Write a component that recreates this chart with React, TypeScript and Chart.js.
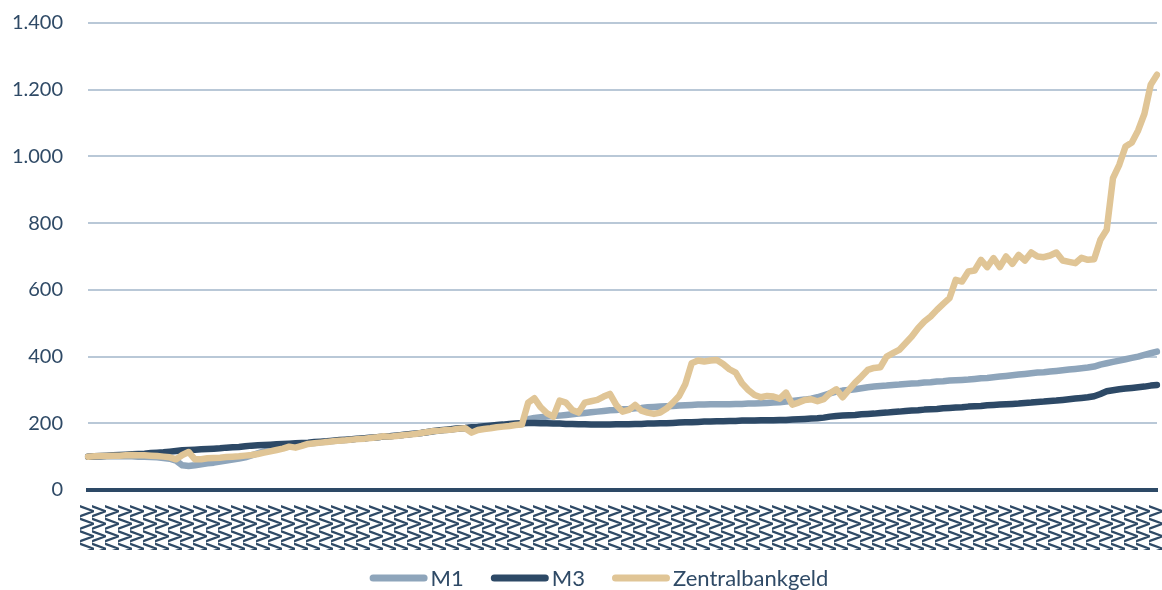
import React, { useEffect, useRef } from "react";
import { Chart, registerables } from "chart.js";

Chart.register(...registerables);

const SERIES_NAMES = ["M1", "M3", "Zentralbankgeld"];
const TICK_TEXT = "VVVV";
const Y_TICKS = [0, 200, 400, 600, 800, 1000, 1200, 1400];

const M1 = [
  100, 100, 100, 101, 101, 101, 101, 101, 100, 100,
  99, 98, 96, 94, 88, 74, 72, 74, 77, 80,
  82, 85, 88, 91, 94, 98, 104, 110, 116, 120,
  124, 127, 130, 133, 136, 139, 141, 143, 145, 147,
  149, 150, 152, 154, 155, 157, 158, 160, 161, 163,
  165, 167, 169, 171, 173, 176, 178, 180, 182, 184,
  185, 187, 189, 190, 192, 194, 195, 196, 197, 198,
  212, 216, 218, 220, 222, 223, 225, 227, 229, 231,
  233, 235, 237, 239, 240, 242, 243, 245, 246, 248,
  249, 250, 251, 252, 253, 254, 255, 256, 256, 257,
  257, 257, 257, 258, 258, 259, 259, 260, 261, 262,
  263, 265, 267, 269, 271, 274, 278, 284, 290, 295,
  298, 300, 302, 305, 308, 310, 312, 313, 315, 316,
  318, 319, 320, 322, 323, 325, 326, 328, 329, 330,
  331, 333, 335, 336, 338, 340, 342, 344, 346, 348,
  350, 352, 353, 355, 357, 359, 361, 363, 365, 367,
  370, 376, 380, 384, 388, 392, 396, 400, 405, 410,
  415,
];

const M3 = [
  100, 101, 102, 103, 104, 105, 106, 107, 108, 109,
  111, 112, 113, 115, 117, 119, 120, 121, 122, 123,
  124, 125, 127, 128, 129, 131, 133, 134, 135, 136,
  137, 138, 139, 140, 141, 142, 144, 145, 146, 148,
  150, 151, 152, 154, 155, 157, 158, 160, 161, 163,
  165, 167, 169, 171, 174, 177, 179, 181, 183, 185,
  186, 188, 189, 191, 193, 195, 196, 198, 199, 200,
  201, 201, 200, 200, 199, 199, 198, 198, 197, 197,
  196, 196, 196, 196, 197, 197, 197, 198, 198, 199,
  199, 200, 200, 201, 202, 203, 203, 204, 205, 205,
  206, 206, 207, 207, 208, 208, 208, 209, 209, 209,
  210, 210, 211, 212, 213, 214, 215, 217, 220, 222,
  223, 224, 225, 227, 228, 229, 231, 232, 234, 235,
  237, 238, 239, 241, 242, 243, 245, 246, 247, 248,
  250, 251, 252, 254, 255, 256, 257, 258, 259, 261,
  262, 264, 265, 267, 268, 270, 272, 274, 276, 278,
  281, 288, 296, 299, 302, 304, 306, 308, 310, 313,
  315,
];

const ZENTRALBANKGELD = [
  100, 101, 102, 102, 103, 103, 104, 105, 104, 104,
  103, 102, 100, 98, 92, 105, 114, 92, 92, 95,
  96, 97, 99, 100, 101, 103, 105, 108, 112, 116,
  120, 124, 130, 127, 132, 138, 140, 142, 144, 146,
  148, 149, 151, 153, 154, 156, 158, 161, 160, 162,
  164, 166, 168, 171, 174, 177, 178, 180, 181, 184,
  185, 172, 180, 183, 185, 188, 190, 192, 195, 196,
  262, 275, 248, 230, 220, 268, 262, 240, 232, 262,
  266, 270, 280, 288, 255, 235, 240, 255, 238, 232,
  228, 232, 244, 262, 282, 318, 380, 388, 385, 388,
  390, 378, 362, 352, 320, 300, 285, 278, 282, 280,
  274, 292, 256, 262, 270, 272, 266, 272, 290, 302,
  278, 300, 322, 340, 360, 366, 368, 400, 410, 420,
  440, 460, 485, 505, 520, 540, 558, 575, 630, 625,
  655, 658, 690, 668, 695, 668, 700, 678, 705, 688,
  712, 700, 698, 703, 712, 688, 684, 680, 696, 690,
  692, 750, 780, 935, 975, 1030, 1042, 1078, 1128, 1215,
  1245,
];

const COLORS = ["#8EA5BB", "#2D4966", "#E0C596"];
const TEXT_COLOR = "#2F4A66";
const GRID_COLOR = "#B9C8D7";
const FONT = "Lato";

const CATEGORIES = M1.map((_, i) => String(i));

function formatDe(v: number): string {
  return String(v).replace(/\B(?=(\d{3})+(?!\d))/g, ".");
}

const legendPlugin = {
  id: "bottomLegend",
  afterDraw(chart: any) {
    const ctx = chart.ctx as CanvasRenderingContext2D;
    ctx.save();
    ctx.font = `22px ${FONT}`;
    ctx.textBaseline = "middle";
    ctx.textAlign = "left";
    const swatch = 58;
    const gap = 3;
    const itemGap = 27;
    const widths = SERIES_NAMES.map((n) => ctx.measureText(n).width);
    const total =
      widths.reduce((s, w) => s + swatch + gap + w, 0) + itemGap * (SERIES_NAMES.length - 1);
    let x = 599 - total / 2;
    const y = 578;
    SERIES_NAMES.forEach((name, k) => {
      ctx.strokeStyle = COLORS[k];
      ctx.lineWidth = 7;
      ctx.lineCap = "round";
      ctx.beginPath();
      ctx.moveTo(x + 3.5, y);
      ctx.lineTo(x + swatch - 3.5, y);
      ctx.stroke();
      ctx.fillStyle = TEXT_COLOR;
      ctx.fillText(name, x + swatch + gap, y + 1);
      x += swatch + gap + widths[k] + itemGap;
    });
    ctx.restore();
  },
};

export default function App() {
  const canvasRef = useRef<HTMLCanvasElement | null>(null);

  useEffect(() => {
    document.body.style.margin = "0";
    const canvas = canvasRef.current;
    if (!canvas) return;
    const series = [M1, M3, ZENTRALBANKGELD];
    const chart = new Chart(canvas, {
      type: "line",
      data: {
        labels: CATEGORIES,
        datasets: series.map((d, k) => ({
          label: SERIES_NAMES[k],
          data: d,
          borderColor: COLORS[k],
          backgroundColor: COLORS[k],
          borderWidth: 6.5,
          pointRadius: 0,
          tension: 0,
          borderJoinStyle: "round" as const,
          borderCapStyle: "round" as const,
          order: 3 - k,
        })),
      },
      options: {
        responsive: false,
        animation: false,
        layout: { padding: { top: 23, right: 5, bottom: 40, left: 0 } },
        plugins: {
          legend: { display: false },
          tooltip: { enabled: false },
        },
        scales: {
          x: {
            grid: { display: false, drawTicks: false },
            border: { display: true, color: "#2D4966", width: 4 },
            ticks: {
              autoSkip: false,
              minRotation: 90,
              maxRotation: 90,
              padding: 15,
              color: TEXT_COLOR,
              font: { family: FONT, size: 18, weight: "bold" },
              callback: (_v: any, i: number) => (i % 2 === 0 ? TICK_TEXT : ""),
            },
            afterFit: (scale: any) => {
              scale.height = 60;
              scale.paddingLeft = 0;
              scale.paddingRight = 0;
            },
          },
          y: {
            min: Y_TICKS[0],
            max: Y_TICKS[Y_TICKS.length - 1],
            afterBuildTicks: (scale: any) => {
              scale.ticks = Y_TICKS.map((v) => ({ value: v }));
            },
            grid: { color: GRID_COLOR, lineWidth: 2, drawTicks: false },
            border: { display: false },
            ticks: {
              padding: 25,
              color: TEXT_COLOR,
              font: { family: FONT, size: 20 },
              callback: (v: any) => formatDe(Number(v)),
            },
            afterFit: (scale: any) => {
              scale.width = 88;
              scale.paddingTop = 0;
              scale.paddingBottom = 0;
            },
          },
        },
      },
      plugins: [legendPlugin],
    });
    return () => chart.destroy();
  }, []);

  return (
    <div style={{ width: 1162, height: 590 }}>
      <canvas ref={canvasRef} width={1162} height={590} />
    </div>
  );
}
